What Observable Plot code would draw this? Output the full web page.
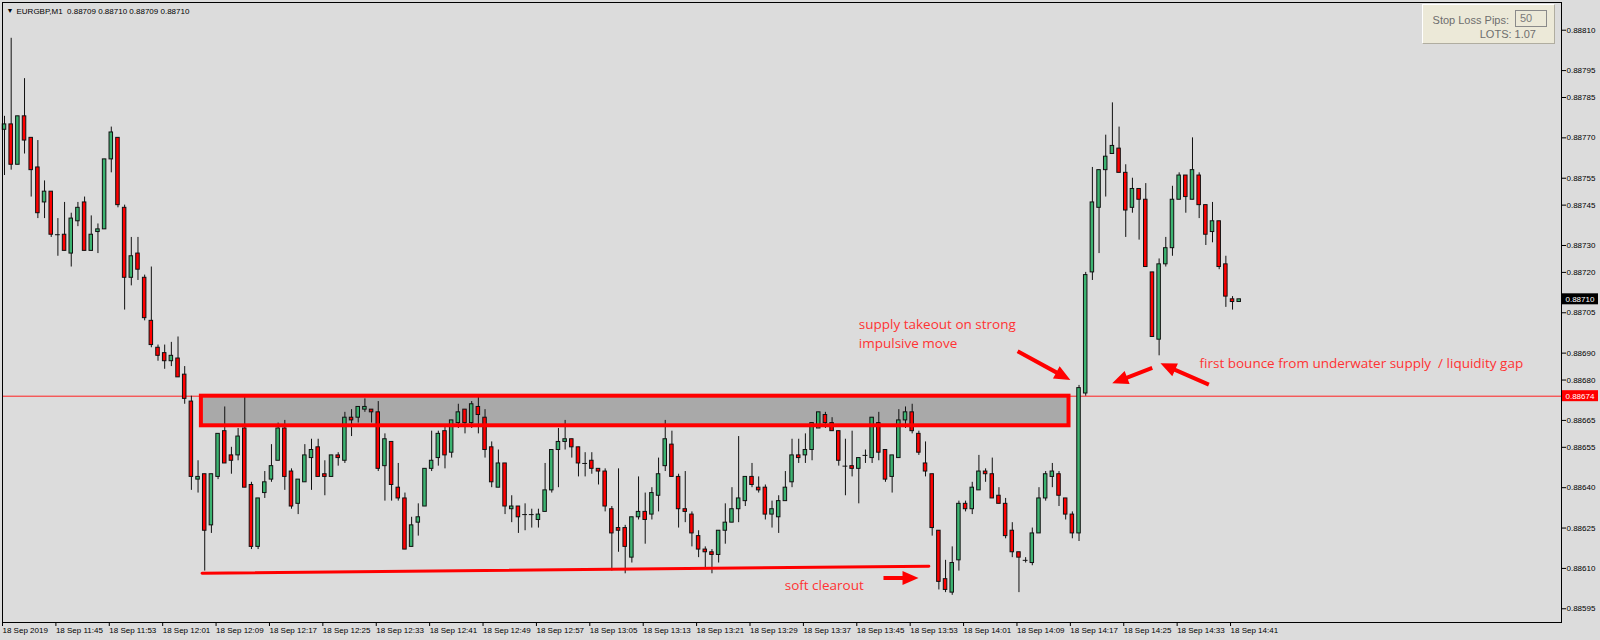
<!DOCTYPE html>
<html><head><meta charset="utf-8">
<script src="https://cdn.jsdelivr.net/npm/d3@7"></script>
<script src="https://cdn.jsdelivr.net/npm/@observablehq/plot@0.6"></script>
<style>
body{margin:0;background:#dcdcdc;}
#wrap{position:relative;width:1600px;height:640px;overflow:hidden;background:#dcdcdc;}
#panel{position:absolute;left:1422px;top:4px;width:133px;height:40px;background:#ece9d8;box-sizing:border-box;border-top:1px solid #fff;border-left:1px solid #fff;border-right:1px solid #b0ada0;border-bottom:1px solid #b0ada0;font-family:"Liberation Sans",Arial,sans-serif;font-size:11px;color:#6e6e6e;}
#panel .l1{position:absolute;right:45px;top:9px;line-height:12px;white-space:nowrap;}
#panel .box{position:absolute;left:92px;top:5px;width:32px;height:17px;box-sizing:border-box;border:1px solid #8a8a8a;padding-left:4px;line-height:15px;color:#7a7a7a;}
#panel .l2{position:absolute;right:18px;top:23px;line-height:12px;white-space:nowrap;}
</style></head>
<body>
<div id="wrap"><div id="chart"></div>
<div id="panel"><span class="l1">Stop Loss Pips:</span><span class="box">50</span><span class="l2">LOTS: 1.07</span></div>
</div>
<script>
// ---- data (EURGBP M1, 18 Sep 2019, 11:37 .. 14:42) ----
const open=[0.88773,0.88775,0.88760,0.88778,0.88770,0.88759,0.88746,0.88750,0.88734,0.88734,
0.88727,0.88739,0.88746,0.88728,0.88735,0.88736,0.88762,0.88770,0.88744,0.88718,
0.88727,0.88718,0.88702,0.88692,0.88690,0.88687,0.88688,0.88682,0.88672,0.88643,
0.88645,0.88626,0.88644,0.88661,0.88652,0.88652,0.88662,0.88641,0.88618,0.88638,
0.88643,0.88650,0.88662,0.88646,0.88634,0.88642,0.88651,0.88655,0.88645,0.88644,
0.88652,0.88650,0.88666,0.88666,0.88669,0.88669,0.88668,0.88648,0.88657,0.88640,
0.88636,0.88618,0.88627,0.88633,0.88647,0.88651,0.88661,0.88653,0.88664,0.88669,
0.88664,0.88670,0.88666,0.88655,0.88640,0.88649,0.88632,0.88633,0.88630,0.88630,
0.88628,0.88631,0.88639,0.88654,0.88657,0.88658,0.88655,0.88649,0.88650,0.88647,
0.88646,0.88632,0.88625,0.88625,0.88614,0.88629,0.88631,0.88630,0.88637,0.88648,
0.88656,0.88644,0.88632,0.88630,0.88622,0.88617,0.88616,0.88615,0.88624,0.88627,
0.88632,0.88635,0.88644,0.88640,0.88640,0.88630,0.88629,0.88635,0.88642,0.88652,
0.88652,0.88654,0.88662,0.88667,0.88664,0.88661,0.88648,0.88648,0.88647,0.88652,
0.88651,0.88664,0.88654,0.88644,0.88651,0.88665,0.88668,0.88660,0.88649,0.88645,
0.88624,0.88606,0.88601,0.88613,0.88634,0.88632,0.88639,0.88646,0.88645,0.88637,
0.88634,0.88624,0.88616,0.88613,0.88612,0.88623,0.88636,0.88644,0.88645,0.88636,
0.88630,0.88623,0.88675,0.88720,0.88744,0.88758,0.88764,0.88766,0.88757,0.88744,
0.88751,0.88747,0.88720,0.88695,0.88723,0.88729,0.88747,0.88756,0.88747,0.88756,
0.88745,0.88735,0.88739,0.88723,0.88710,0.88709];
const high=[0.88778,0.88807,0.88778,0.88792,0.88770,0.88769,0.88754,0.88750,0.88740,0.88746,
0.88742,0.88746,0.88748,0.88741,0.88738,0.88762,0.88774,0.88770,0.88745,0.88733,
0.88733,0.88719,0.88722,0.88693,0.88693,0.88694,0.88696,0.88685,0.88674,0.88650,
0.88645,0.88645,0.88660,0.88670,0.88655,0.88662,0.88674,0.88642,0.88636,0.88646,
0.88656,0.88664,0.88665,0.88647,0.88643,0.88656,0.88658,0.88658,0.88650,0.88652,
0.88653,0.88668,0.88669,0.88670,0.88673,0.88669,0.88672,0.88660,0.88657,0.88649,
0.88638,0.88629,0.88634,0.88647,0.88661,0.88661,0.88663,0.88665,0.88671,0.88669,
0.88672,0.88674,0.88669,0.88657,0.88654,0.88649,0.88637,0.88633,0.88634,0.88632,
0.88632,0.88649,0.88654,0.88662,0.88665,0.88658,0.88655,0.88653,0.88653,0.88647,
0.88647,0.88633,0.88647,0.88626,0.88629,0.88644,0.88638,0.88640,0.88651,0.88665,
0.88661,0.88645,0.88646,0.88631,0.88624,0.88618,0.88617,0.88624,0.88634,0.88640,
0.88659,0.88644,0.88649,0.88644,0.88641,0.88635,0.88637,0.88646,0.88658,0.88658,
0.88660,0.88664,0.88668,0.88668,0.88666,0.88661,0.88658,0.88661,0.88651,0.88654,
0.88666,0.88668,0.88654,0.88652,0.88669,0.88670,0.88671,0.88661,0.88657,0.88645,
0.88624,0.88613,0.88618,0.88635,0.88635,0.88642,0.88652,0.88647,0.88651,0.88640,
0.88636,0.88627,0.88616,0.88614,0.88625,0.88640,0.88646,0.88649,0.88646,0.88636,
0.88631,0.88678,0.88720,0.88759,0.88758,0.88771,0.88783,0.88774,0.88760,0.88755,
0.88751,0.88753,0.88720,0.88725,0.88733,0.88752,0.88757,0.88756,0.88770,0.88757,
0.88745,0.88746,0.88739,0.88726,0.88711,0.88710];
const low=[0.88756,0.88758,0.88760,0.88764,0.88748,0.88740,0.88740,0.88733,0.88726,0.88728,
0.88722,0.88737,0.88728,0.88728,0.88727,0.88736,0.88757,0.88744,0.88706,0.88715,
0.88717,0.88702,0.88692,0.88687,0.88684,0.88685,0.88681,0.88671,0.88639,0.88638,
0.88609,0.88623,0.88643,0.88649,0.88645,0.88650,0.88640,0.88617,0.88617,0.88636,
0.88642,0.88650,0.88639,0.88632,0.88630,0.88642,0.88639,0.88644,0.88637,0.88644,
0.88648,0.88649,0.88659,0.88664,0.88668,0.88664,0.88646,0.88635,0.88635,0.88635,
0.88617,0.88618,0.88622,0.88633,0.88646,0.88648,0.88647,0.88651,0.88662,0.88660,
0.88662,0.88660,0.88651,0.88640,0.88640,0.88630,0.88627,0.88623,0.88624,0.88625,
0.88625,0.88631,0.88638,0.88640,0.88654,0.88651,0.88644,0.88644,0.88645,0.88641,
0.88631,0.88609,0.88616,0.88608,0.88612,0.88628,0.88619,0.88628,0.88631,0.88646,
0.88644,0.88625,0.88627,0.88618,0.88614,0.88610,0.88608,0.88612,0.88619,0.88627,
0.88627,0.88633,0.88640,0.88638,0.88628,0.88625,0.88623,0.88635,0.88640,0.88649,
0.88649,0.88650,0.88662,0.88662,0.88661,0.88648,0.88637,0.88644,0.88634,0.88649,
0.88649,0.88650,0.88642,0.88638,0.88651,0.88662,0.88660,0.88652,0.88644,0.88622,
0.88602,0.88601,0.88600,0.88609,0.88631,0.88630,0.88639,0.88642,0.88636,0.88634,
0.88621,0.88614,0.88601,0.88612,0.88611,0.88623,0.88635,0.88640,0.88633,0.88628,
0.88621,0.88620,0.88674,0.88717,0.88727,0.88748,0.88764,0.88757,0.88733,0.88742,
0.88732,0.88722,0.88696,0.88689,0.88722,0.88726,0.88747,0.88742,0.88747,0.88740,
0.88730,0.88731,0.88721,0.88707,0.88706,0.88709];
const close=[0.88775,0.88760,0.88778,0.88769,0.88758,0.88742,0.88750,0.88734,0.88734,0.88728,
0.88740,0.88744,0.88728,0.88734,0.88736,0.88762,0.88772,0.88745,0.88718,0.88726,
0.88721,0.88703,0.88693,0.88689,0.88687,0.88689,0.88681,0.88673,0.88644,0.88644,
0.88624,0.88645,0.88660,0.88649,0.88650,0.88659,0.88640,0.88618,0.88636,0.88642,
0.88648,0.88662,0.88644,0.88633,0.88643,0.88652,0.88654,0.88644,0.88644,0.88652,
0.88651,0.88666,0.88665,0.88670,0.88670,0.88668,0.88647,0.88658,0.88641,0.88636,
0.88617,0.88626,0.88629,0.88647,0.88650,0.88660,0.88652,0.88665,0.88668,0.88664,
0.88671,0.88667,0.88654,0.88642,0.88649,0.88633,0.88633,0.88629,0.88630,0.88630,
0.88630,0.88639,0.88654,0.88657,0.88658,0.88655,0.88649,0.88649,0.88647,0.88646,
0.88633,0.88623,0.88624,0.88618,0.88629,0.88631,0.88628,0.88638,0.88645,0.88658,
0.88644,0.88632,0.88631,0.88623,0.88617,0.88616,0.88615,0.88624,0.88627,0.88632,
0.88636,0.88644,0.88641,0.88639,0.88630,0.88632,0.88635,0.88640,0.88652,0.88651,
0.88654,0.88664,0.88668,0.88664,0.88661,0.88650,0.88648,0.88647,0.88651,0.88652,
0.88666,0.88653,0.88643,0.88652,0.88665,0.88668,0.88661,0.88653,0.88646,0.88625,
0.88605,0.88602,0.88612,0.88634,0.88632,0.88640,0.88646,0.88645,0.88636,0.88634,
0.88622,0.88616,0.88614,0.88613,0.88623,0.88636,0.88645,0.88646,0.88637,0.88630,
0.88623,0.88677,0.88719,0.88746,0.88758,0.88763,0.88767,0.88757,0.88743,0.88751,
0.88747,0.88722,0.88696,0.88723,0.88729,0.88747,0.88756,0.88748,0.88758,0.88745,
0.88734,0.88739,0.88722,0.88711,0.88709,0.88710];

const timeTickIndex=[0,8,16,24,32,40,48,56,64,72,80,88,96,104,112,120,128,136,144,152,160,168,176,184];
const timeLabels=["18 Sep 2019","18 Sep 11:45","18 Sep 11:53","18 Sep 12:01","18 Sep 12:09","18 Sep 12:17","18 Sep 12:25","18 Sep 12:33","18 Sep 12:41","18 Sep 12:49","18 Sep 12:57","18 Sep 13:05","18 Sep 13:13","18 Sep 13:21","18 Sep 13:29","18 Sep 13:37","18 Sep 13:45","18 Sep 13:53","18 Sep 14:01","18 Sep 14:09","18 Sep 14:17","18 Sep 14:25","18 Sep 14:33","18 Sep 14:41"];
const priceTicks=[0.88810,0.88795,0.88785,0.88770,0.88755,0.88745,0.88730,0.88720,0.88705,0.88690,0.88680,0.88665,0.88655,0.88640,0.88625,0.88610,0.88595];
const priceFlags=[{p:0.88710,bg:"#000000"},{p:0.88674,bg:"#ff0000"}];
const levelLine=[0.88674];
const supplyZone=[{i1:29.5,i2:159.5,p1:0.88663,p2:0.88674}];
const supportLine=[{i:29.6,p:0.886082},{i:138.5,p:0.886108}];
const notes=[
 {i:128.0,p:0.887005,t:"supply takeout on strong"},
 {i:128.0,p:0.886934,t:"impulsive move"},
 {i:179.05,p:0.886861,t:"first bounce from underwater supply\u00a0 / liquidity gap"},
 {i:116.9,p:0.886036,t:"soft clearout"}];
const arrows=[
 {i1:151.8,p1:0.886907,i2:159.7,p2:0.886800},
 {i1:171.97,p1:0.886845,i2:165.97,p2:0.886788},
 {i1:180.45,p1:0.886783,i2:173.2,p2:0.886862},
 {i1:131.7,p1:0.886064,i2:136.95,p2:0.886064}];
const title="EURGBP,M1\u00a0 0.88709 0.88710 0.88709 0.88710";

// ---- layout ----
const W=1600,H=640,mL=2,mR=39,mT=2,mB=18;
const xDomain=[-0.3,233.29], yDomain=[0.885899,0.888203];
const sx=d3.scaleLinear(xDomain,[mL,W-mR]);
const sy=d3.scaleLinear(yDomain,[H-mB,mT]);
const bw=1.75/(sx(1)-sx(0));
const GREEN="#3cb371", RED="#ff0000", INK="#111111", NOTE="#ff3333";
const candles=open.map((o,i)=>({i,o,h:high[i],l:low[i],c:close[i]}));
const bodies=candles.filter(d=>d.o!==d.c);
const dojis=candles.filter(d=>d.o===d.c);
const labelMap=new Map(timeTickIndex.map((d,k)=>[d,timeLabels[k]]));
const flagHalf=(sy.invert(0)-sy.invert(11))/2;

const fatArrow={draw(ctx,l){const hw=2,hl=Math.min(16,l*0.6),hh=7;
 ctx.moveTo(-hw,0);ctx.lineTo(-hw,-(l-hl));ctx.lineTo(-hh,-(l-hl));ctx.lineTo(0,-l);
 ctx.lineTo(hh,-(l-hl));ctx.lineTo(hw,-(l-hl));ctx.lineTo(hw,0);ctx.closePath();}};
const arrowMarks=arrows.map(a=>{const dx=sx(a.i2)-sx(a.i1),dy=sy(a.p2)-sy(a.p1);
 return Plot.vector([a],{x:"i1",y:"p1",length:Math.hypot(dx,dy),rotate:Math.atan2(dx,-dy)*180/Math.PI,
  anchor:"start",shape:fatArrow,fill:RED,stroke:"none"});});

const chart=Plot.plot({
 width:W,height:H,marginLeft:mL,marginRight:mR,marginTop:mT,marginBottom:mB,
 style:{background:"#dcdcdc",fontFamily:"'Liberation Sans',Arial,sans-serif",fontSize:"8px",color:"#000"},
 x:{type:"linear",domain:xDomain,axis:null},
 y:{type:"linear",domain:yDomain,axis:null},
 marks:[
  Plot.rect(supplyZone,{x1:"i1",x2:"i2",y1:"p1",y2:"p2",fill:"#a9a9a9"}),
  Plot.ruleY(levelLine,{stroke:"#ff2020",strokeWidth:1}),
  Plot.ruleX(candles,{x:"i",y1:"l",y2:"h",stroke:INK,strokeWidth:1}),
  Plot.rect(bodies,{x1:d=>d.i-bw,x2:d=>d.i+bw,y1:"o",y2:"c",fill:d=>d.c>d.o?GREEN:RED,stroke:INK,strokeWidth:1}),
  Plot.ruleY(dojis,{y:"o",x1:d=>d.i-bw-0.1,x2:d=>d.i+bw+0.1,stroke:INK,strokeWidth:1}),
  Plot.rect(supplyZone,{x1:"i1",x2:"i2",y1:"p1",y2:"p2",fill:"none",stroke:RED,strokeWidth:4}),
  Plot.line(supportLine,{x:"i",y:"p",stroke:RED,strokeWidth:3}),
  ...arrowMarks,
  Plot.text(notes,{x:"i",y:"p",text:"t",textAnchor:"start",fill:NOTE,fontSize:13.5,fontFamily:"'Open Sans',sans-serif",clip:true}),
  Plot.frame({stroke:"#000"}),
  Plot.axisX({ticks:timeTickIndex,anchor:"bottom",tickSize:4,tickPadding:1,tickFormat:d=>labelMap.get(d),textAnchor:"start",dx:-2,fontSize:8}),
  Plot.axisY({ticks:priceTicks,anchor:"right",tickSize:4,tickPadding:1,tickFormat:d=>d.toFixed(5),fontSize:8}),
  Plot.rect(priceFlags,{x1:sx.invert(W-mR+1),x2:sx.invert(W-2),y1:d=>d.p-flagHalf,y2:d=>d.p+flagHalf,fill:"bg"}),
  Plot.text(priceFlags,{x:sx.invert(W-mR+4),y:"p",text:d=>d.p.toFixed(5),fill:"#fff",textAnchor:"start",fontSize:8}),
  Plot.text(["\u25BC"],{frameAnchor:"top-left",dx:4,dy:6,text:d=>d,fontSize:7,textAnchor:"start"}),
  Plot.text([title],{frameAnchor:"top-left",dx:14,dy:6,text:d=>d,fontSize:8,textAnchor:"start"})
 ]
});
document.getElementById("chart").appendChild(chart);
</script>
</body></html>
